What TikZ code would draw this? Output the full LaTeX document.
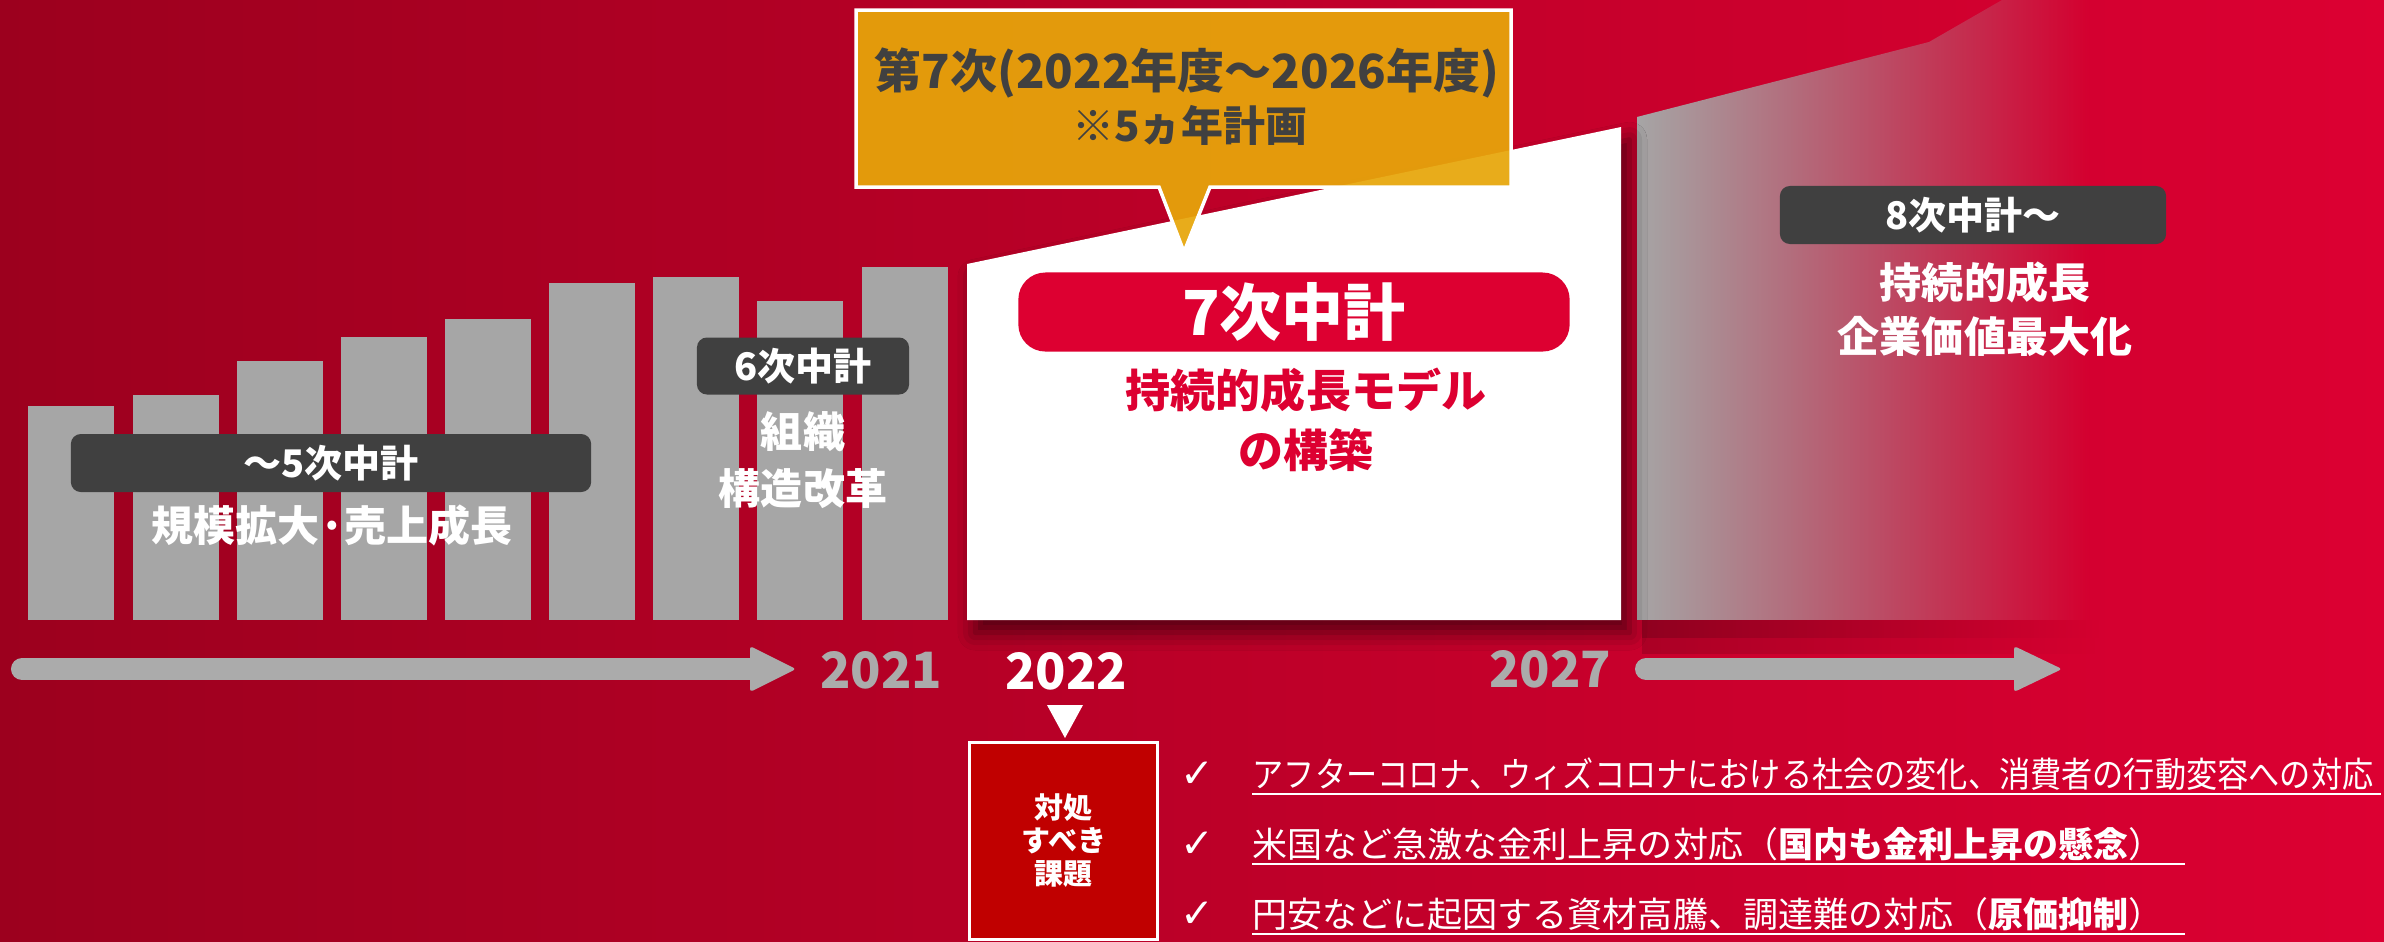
\documentclass[tikz,border=0pt]{standalone}
\usepackage{fontspec}
\usepackage{graphicx}
\setmainfont{Noto Sans CJK JP}
\newfontfamily\dejavu{DejaVu Sans}
\usetikzlibrary{fadings,shadows.blur}
\definecolor{bgL}{RGB}{156,0,30}
\definecolor{bgR}{RGB}{220,0,50}
\definecolor{bargray}{RGB}{166,166,166}
\definecolor{lblgray}{RGB}{64,64,64}
\definecolor{amber}{RGB}{231,166,10}
\definecolor{redseven}{RGB}{221,0,49}
\definecolor{boxred}{RGB}{192,0,0}
\definecolor{axisgray}{RGB}{171,171,171}
\tikzfading[name=grayfade, left color=transparent!0, right color=transparent!100]
\begin{document}
\begin{tikzpicture}[x=0.01cm, y=-0.01cm,
  darklbl/.style={fill=lblgray, rounded corners=0.1cm, text=white, inner sep=0pt,
    font=\bfseries\fontsize{10.81}{12}\selectfont},
  wtxt/.style={text=white, inner sep=0pt, font=\bfseries\fontsize{11.95}{13}\selectfont},
  redtxt/.style={text=redseven, inner sep=0pt, font=\bfseries\fontsize{12.8}{14}\selectfont},
  calltxt/.style={text=lblgray, inner sep=0pt},
  yeartxt/.style={inner sep=0pt, font=\bfseries\fontsize{14.23}{16}\selectfont},
  axisline/.style={draw=axisgray, line width=0.22cm, line cap=round},
  issuetxt/.style={anchor=base west, inner sep=0pt, text=white, font=\fontsize{9.96}{12}\selectfont},
  checktxt/.style={anchor=base, inner sep=0pt, text=white, font=\dejavu\fontsize{11.5}{12}\selectfont},
  uline/.style={draw=white, line width=0.022cm}]
\useasboundingbox (0,0) rectangle (2384,941);
% background
\shade[left color=bgL, right color=bgR] (0,0) rectangle (2384,941);

% bars
\foreach \bx/\bt in {28/406,133/395,237/361,341/337,445/319,549/283,653/277,757/301,862/267}
  \fill[bargray] (\bx,\bt) rectangle ({\bx+86},620);

% faded gray future block with its shadow
\fill[black, opacity=0.28, path fading=grayfade] (1642,620) rectangle (2100,638);
\fill[black, opacity=0.14, path fading=grayfade] (1642,638) rectangle (2100,654);
\fill[bargray, path fading=grayfade] (1637,117) -- (1929,42) -- (2002,0) -- (2090,0) -- (2090,620) -- (1637,620) -- cycle;

% white block of 7th plan
\fill[white, blur shadow={shadow xshift=2.4pt, shadow yshift=-3.6pt, shadow blur radius=5pt, shadow opacity=55}]
  (967,264) -- (1621,127) -- (1621,620) -- (967,620) -- cycle;

% callout
\filldraw[fill=amber, fill opacity=0.93, draw=white, line width=0.035cm]
  (856,10) -- (1511,10) -- (1511,187) -- (1210,187) -- (1184,252) -- (1159,187) -- (856,187) -- cycle;
\node[calltxt, font=\bfseries\fontsize{13.37}{15}\selectfont] (call1) at (1187,73) {第7次(2022年度～2026年度)};
\node[calltxt, font=\bfseries\fontsize{11.95}{14}\selectfont] (call2) at (1190,125) {※5ヵ年計画};

% labels
\node[darklbl, minimum width=5.2cm, minimum height=0.58cm] (lbl5) at (331,463) {～5次中計};
\node[wtxt] (txt5) at (332,525) {規模拡大·売上成長};
\node[darklbl, minimum width=2.12cm, minimum height=0.57cm] (lbl6) at (803,366) {6次中計};
\node[wtxt] (txt6a) at (803,432) {組織};
\node[wtxt] (txt6b) at (803,489) {構造改革};

\node[fill=redseven, rounded corners=0.27cm, minimum width=5.51cm, minimum height=0.79cm, inner sep=0pt,
  text=white, font=\bfseries\fontsize{17.64}{19}\selectfont] (lbl7) at (1294,312) {7次中計};
\node[redtxt] (txt7a) at (1306,390) {持続的成長モデル};
\node[redtxt] (txt7b) at (1306,450) {の構築};

\node[darklbl, minimum width=3.86cm, minimum height=0.58cm] (lbl8) at (1973,215) {8次中計～};
\node[wtxt] (txt8a) at (1985,282) {持続的成長};
\node[wtxt] (txt8b) at (1985,336) {企業価値最大化};

% timeline arrows
\coordinate (a1s) at (22,669);
\coordinate (a1e) at (758,669);
\draw[axisline] (a1s) -- (a1e);
\fill[axisgray, rounded corners=0.03cm] (750,646) -- (796,669) -- (750,692) -- cycle;
\coordinate (a2s) at (1646,669);
\coordinate (a2e) at (2020,669);
\draw[axisline] (a2s) -- (a2e);
\fill[axisgray, rounded corners=0.03cm] (2014,646) -- (2062,669) -- (2014,692) -- cycle;

\node[yeartxt, text=axisgray] (y2021) at (881,670) {2021};
\node[yeartxt, text=white] (y2022) at (1066,671) {2022};
\node[yeartxt, text=axisgray] (y2027) at (1550,669) {2027};

% marker and issues box
\fill[white] (1047,705) -- (1083,705) -- (1065,738) -- cycle;
\node[draw=white, line width=0.03cm, fill=boxred, minimum width=1.87cm, minimum height=1.96cm, inner sep=0pt,
  text=white, align=center, font=\bfseries\fontsize{8.25}{9.4}\selectfont] (issue) at (1063.5,841) {対処\\すべき\\課題};

% issue lines
\node[checktxt] (ck1) at (1197,787) {✓};
\node[issuetxt] (t1) at (1252,787) {\scalebox{0.89}[1]{アフターコロナ、ウィズコロナにおける社会の変化、消費者の行動変容への対応}};
\draw[uline] ([yshift=-2pt]t1.base west) -- ([yshift=-2pt,xshift=2pt]t1.base east);
\node[checktxt] (ck2) at (1197,857) {✓};
\node[issuetxt] (t2) at (1252,857) {米国など急激な金利上昇の対応（\textbf{国内も金利上昇の懸念}）};
\draw[uline] ([yshift=-2pt]t2.base west) -- ([yshift=-2pt,xshift=6pt]t2.base east);
\node[checktxt] (ck3) at (1197,927) {✓};
\node[issuetxt] (t3) at (1252,927) {円安などに起因する資材高騰、調達難の対応（\textbf{原価抑制}）};
\draw[uline] ([yshift=-2pt]t3.base west) -- ([yshift=-2pt,xshift=6pt]t3.base east);
\end{tikzpicture}
\end{document}
